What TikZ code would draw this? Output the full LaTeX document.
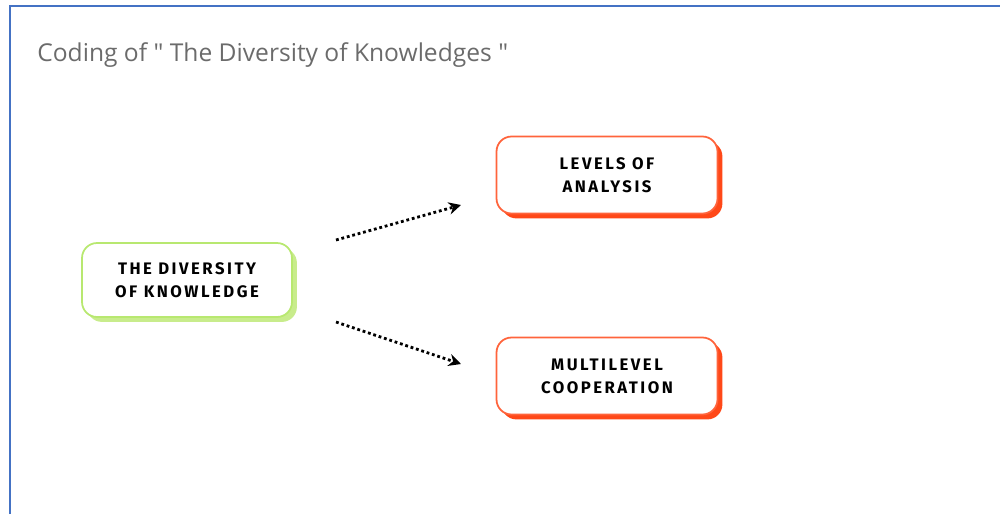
\documentclass[tikz,border=0pt]{standalone}
\usepackage{fontspec}
\setmainfont{Open Sans}[Ligatures=TeXOff]
\newfontfamily\boxfont[LetterSpace=15]{Fira Sans}
\usetikzlibrary{arrows.meta,shadows}
\definecolor{frameblue}{RGB}{68,114,196}
\definecolor{limeline}{RGB}{184,232,112}
\definecolor{limeshade}{RGB}{200,236,140}
\definecolor{redline}{RGB}{255,100,60}
\definecolor{redshade}{RGB}{255,72,24}

\begin{document}
\begin{tikzpicture}[x=0.02cm, y=-0.02cm,
  card/.style={shape=rectangle, rounded corners=0.3cm, fill=white, line width=1pt,
    minimum width=4.2cm, minimum height=1.48cm, align=center, font=\boxfont\bfseries\fontsize{9.5}{13}\selectfont},
  greencard/.style={card, draw=limeline, drop shadow={shadow xshift=2.8pt, shadow yshift=-2.8pt, fill=limeshade, opacity=1}},
  redcard/.style={card, draw=redline, drop shadow={shadow xshift=2.8pt, shadow yshift=-2.8pt, fill=redshade, opacity=1}},
  dotarrow/.style={-{Stealth[length=7pt,width=7pt]}, line width=1.6pt, dash pattern=on 1.6pt off 1.6pt}]
\useasboundingbox (0,0) rectangle (1000,514);
\draw[frameblue, line width=1.5pt] (10,514) -- (10,6) -- (1000,6);
\node[anchor=base west, inner sep=0pt, text=black!58, font=\fontsize{14}{16}\selectfont] (title) at (37,61) {Coding of " The Diversity of Knowledges "};
\node[greencard] (div) at (187,280) {THE DIVERSITY\\OF KNOWLEDGE};
\node[redcard, minimum width=4.42cm, minimum height=1.54cm] (lev) at (607,175) {LEVELS OF\\ANALYSIS};
\node[redcard, minimum width=4.42cm, minimum height=1.54cm] (mul) at (607,376) {MULTILEVEL\\COOPERATION};
\coordinate (s1) at (336,240);
\coordinate (e1) at (461,205);
\coordinate (s2) at (336,322);
\coordinate (e2) at (461,364);
\draw[dotarrow] (s1) -- (e1);
\draw[dotarrow] (s2) -- (e2);
\end{tikzpicture}
\end{document}
